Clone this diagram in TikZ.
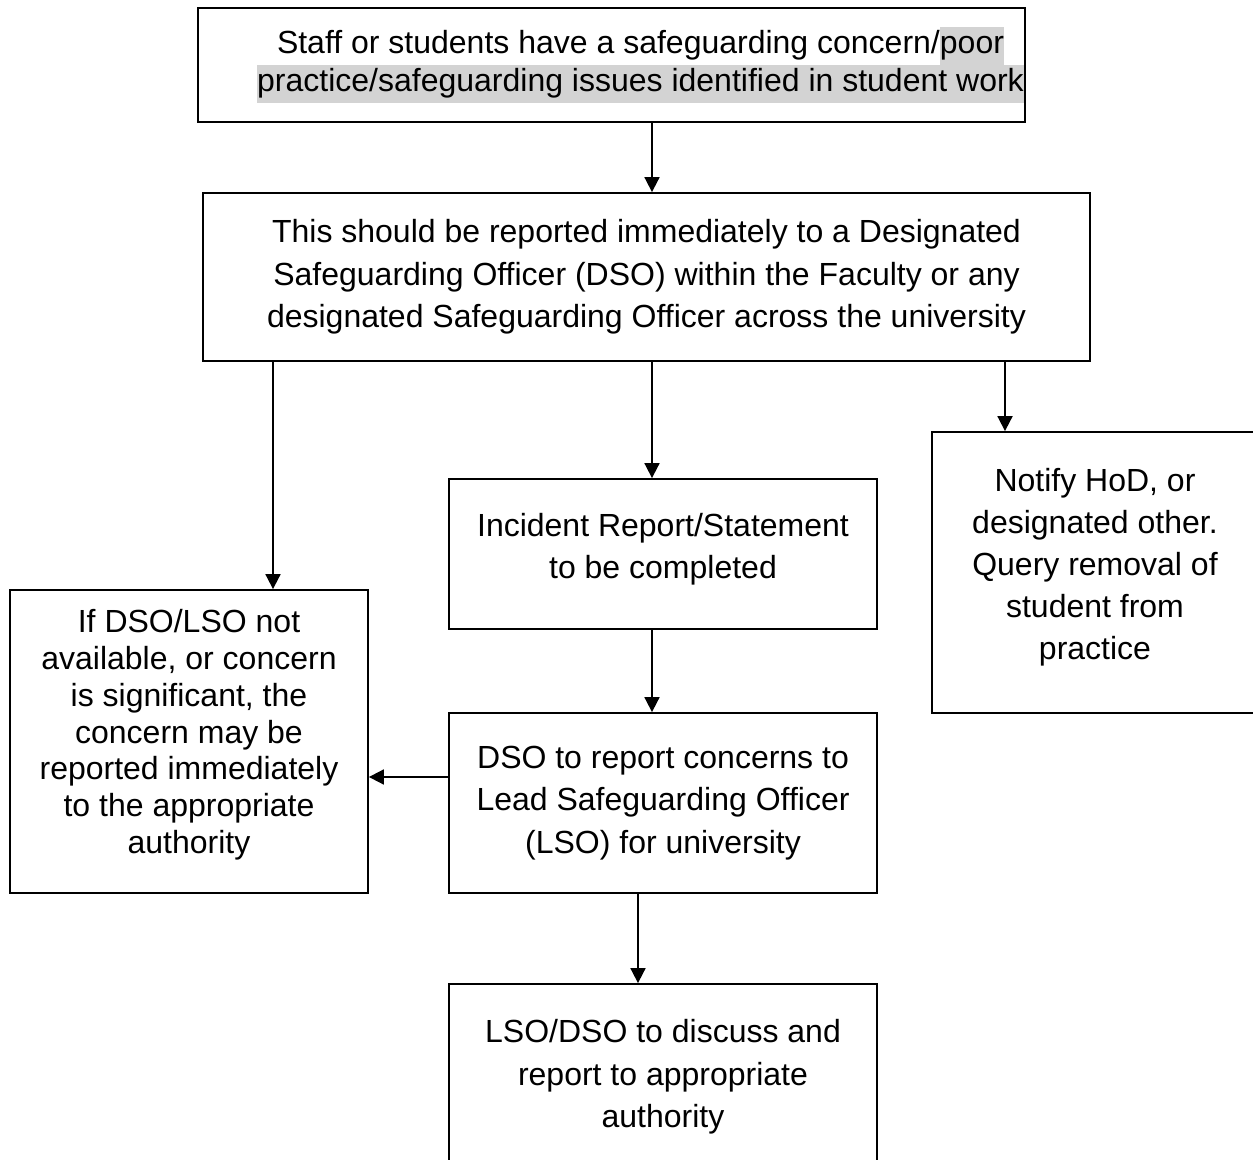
\documentclass[tikz,border=0pt]{standalone}
\usepackage{fontspec}
\setmainfont{Liberation Sans}
\usetikzlibrary{arrows.meta}
\definecolor{hlgray}{RGB}{211,211,211}
\newcommand{\greyhl}[1]{{\setlength{\fboxsep}{0pt}\colorbox{hlgray}{\rule[-0.3\baselineskip]{0pt}{\baselineskip}#1}}}
\newcommand{\lastdepth}[1]{\rule[-#1]{0pt}{0pt}}
\begin{document}
\begin{tikzpicture}[x=0.5pt,y=-0.5pt,
  box/.style={draw,line width=0.9pt,inner sep=0pt,align=center,font={\fontsize{16}{21.25}\selectfont}},
  arr/.style={line width=0.9pt,-{Triangle[length=7.5pt,width=7.5pt]}}]
\useasboundingbox (0,0) rectangle (1253,1160);
% boxes
\node[box,minimum width=413.5pt,minimum height=57pt,font={\fontsize{16}{19}\selectfont}] (concern) at (611.5,65) {\hspace*{29pt}Staff or students have a safeguarding concern/\greyhl{poor}\\\hspace*{29pt}\greyhl{practice/safeguarding issues identified in student work}};
\node[box,minimum width=443.5pt,minimum height=84pt] (report) at (646.5,277) {This should be reported immediately to a Designated\\Safeguarding Officer (DSO) within the Faculty or any\\designated Safeguarding Officer across the university};
\node[box,minimum width=214pt,minimum height=75pt] (incident) at (663,554) {Incident Report/Statement\\to be completed\lastdepth{7.9pt}};
\node[box,minimum width=163pt,minimum height=140.5pt,font={\fontsize{16}{21}\selectfont}] (notify) at (1095,572.5) {Notify HoD, or\\designated other.\\Query removal of\\student from\\practice\lastdepth{8.4pt}};
\node[box,minimum width=179pt,minimum height=151.5pt,font={\fontsize{16}{18.4}\selectfont}] (direct) at (189,741.5) {If DSO/LSO not\\available, or concern\\is significant, the\\concern may be\\reported immediately\\to the appropriate\\authority\lastdepth{10pt}};
\node[box,minimum width=214pt,minimum height=90pt] (lead) at (663,803) {DSO to report concerns to\\Lead Safeguarding Officer\\(LSO) for university};
\node[box,minimum width=214pt,minimum height=93pt] (discuss) at (663,1077) {LSO/DSO to discuss and\\report to appropriate\\authority};
% arrows
\draw[arr] (concern.south -| 652,0) -- (report.north -| 652,0);
\draw[arr] (report.south -| 273,0) -- (direct.north -| 273,0);
\draw[arr] (report.south -| 652,0) -- (incident.north -| 652,0);
\draw[arr] (report.south -| 1005,0) -- (notify.north -| 1005,0);
\draw[arr] (incident.south -| 652,0) -- (lead.north -| 652,0);
\draw[arr] (lead.west |- 0,777) -- (direct.east |- 0,777);
\draw[arr] (lead.south -| 638,0) -- (discuss.north -| 638,0);
\end{tikzpicture}
\end{document}
